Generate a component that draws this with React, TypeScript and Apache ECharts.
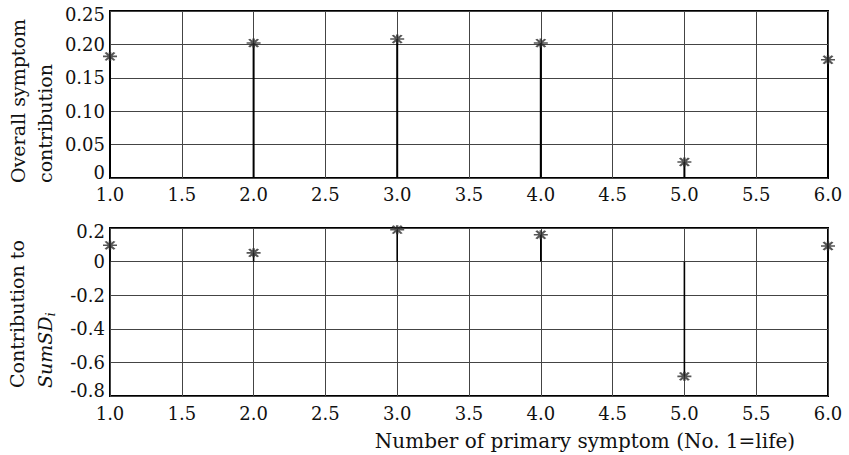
import React, { useEffect, useRef } from "react";
import * as echarts from "echarts";

const symptoms = [1, 2, 3, 4, 5, 6];
const overallContribution = [0.182, 0.202, 0.208, 0.202, 0.024, 0.177];
const sumSDContribution = [0.097, 0.052, 0.19, 0.16, -0.683, 0.093];
const topYTicks = { min: 0, max: 0.25, interval: 0.05 };
const bottomYTicks = { min: -0.8, max: 0.2, interval: 0.2 };
const xTicks = { min: 1, max: 6, interval: 0.5 };

const FONT = "DejaVu Serif";
const asterisk =
  "path://M0,5 L10,5 M5,1 L5,9 M1.8,1.5 L8.2,8.5 M8.2,1.5 L1.8,8.5";

export default function App() {
  const ref = useRef<HTMLDivElement>(null);
  useEffect(() => {
    if (!ref.current) return;
    const chart = echarts.init(ref.current, undefined, { renderer: "svg" });
    const topData = symptoms.map((x, i) => [x, overallContribution[i]]);
    const botData = symptoms.map((x, i) => [x, sumSDContribution[i]]);

    const xAxisBase = (gridIndex: number, margin: number) => ({
      type: "value",
      gridIndex,
      min: xTicks.min,
      max: xTicks.max,
      interval: xTicks.interval,
      axisLine: { show: false },
      axisTick: { show: false },
      axisLabel: {
        margin,
        fontFamily: FONT,
        fontSize: 18,
        color: "#111",
        formatter: (v: number) => v.toFixed(1),
      },
      splitLine: { show: true, lineStyle: { color: "#444", width: 1 } },
    });

    const edgeRich = {
      lo: { fontFamily: FONT, fontSize: 18, color: "#111", padding: [0, 0, 11, 0] },
      hi: { fontFamily: FONT, fontSize: 18, color: "#111", padding: [6, 0, 0, 0] },
    };

    const yFmt = (lo: number, hi: number, digits: number) => (v: number) => {
      const s = Math.abs(v) < 1e-9 ? "0" : v.toFixed(digits);
      if (Math.abs(v - lo) < 1e-9) return `{lo|${s}}`;
      if (Math.abs(v - hi) < 1e-9) return `{hi|${s}}`;
      return s;
    };

    const stems = (xi: number, data: number[][], width: number) => ({
      type: "custom",
      xAxisIndex: xi,
      yAxisIndex: xi,
      data,
      encode: { x: 0, y: 1 },
      renderItem: (params: any, api: any) => {
        const p0 = api.coord([api.value(0), 0]);
        const p1 = api.coord([api.value(0), api.value(1)]);
        return {
          type: "line",
          shape: { x1: p0[0], y1: p0[1], x2: p1[0], y2: p1[1] },
          style: { stroke: "#000", lineWidth: width },
        };
      },
      z: 3,
    });

    const markers = (xi: number, data: number[][]) => ({
      type: "scatter",
      xAxisIndex: xi,
      yAxisIndex: xi,
      data,
      symbol: asterisk,
      symbolSize: [14, 9],
      itemStyle: { color: "transparent", borderColor: "#2a2a2a", borderWidth: 2 },
      z: 4,
    });

    chart.setOption({
      animation: false,
      backgroundColor: "#fff",
      grid: [
        { left: 110, right: 21, top: 11, height: 167, show: true, borderColor: "#000", borderWidth: 2, backgroundColor: "transparent" },
        { left: 110, right: 21, top: 228, height: 168, show: true, borderColor: "#000", borderWidth: 2, backgroundColor: "transparent" },
      ],
      xAxis: [xAxisBase(0, 7), xAxisBase(1, 8)],
      yAxis: [
        {
          type: "value",
          gridIndex: 0,
          min: topYTicks.min,
          max: topYTicks.max,
          interval: topYTicks.interval,
          axisLine: { show: false },
          axisTick: { show: false },
          axisLabel: {
            margin: 5,
            fontFamily: FONT,
            fontSize: 18,
            color: "#111",
            formatter: yFmt(topYTicks.min, topYTicks.max, 2),
            rich: edgeRich,
          },
          splitLine: { show: true, lineStyle: { color: "#444", width: 1 } },
        },
        {
          type: "value",
          gridIndex: 1,
          min: bottomYTicks.min,
          max: bottomYTicks.max,
          interval: bottomYTicks.interval,
          axisLine: { show: false },
          axisTick: { show: false },
          axisLabel: {
            margin: 5,
            fontFamily: FONT,
            fontSize: 18,
            color: "#111",
            formatter: yFmt(bottomYTicks.min, bottomYTicks.max, 1),
            rich: edgeRich,
          },
          splitLine: { show: true, lineStyle: { color: "#444", width: 1 } },
        },
      ],
      series: [
        stems(0, topData, 2),
        markers(0, topData),
        stems(1, botData, 1.6),
        markers(1, botData),
      ],
      graphic: [
        {
          type: "text",
          x: 18,
          y: 183,
          rotation: Math.PI / 2,
          style: { text: "Overall symptom", font: `19px "${FONT}"`, fill: "#111", textAlign: "left", textVerticalAlign: "middle" },
        },
        {
          type: "text",
          x: 45,
          y: 183,
          rotation: Math.PI / 2,
          style: { text: "contribution", font: `19px "${FONT}"`, fill: "#111", textAlign: "left", textVerticalAlign: "middle" },
        },
        {
          type: "text",
          x: 17,
          y: 388,
          rotation: Math.PI / 2,
          style: { text: "Contribution to", font: `19px "${FONT}"`, fill: "#111", textAlign: "left", textVerticalAlign: "middle" },
        },
        {
          type: "text",
          x: 45,
          y: 388,
          rotation: Math.PI / 2,
          style: {
            text: "{it|SumSD}{sub|i}",
            fill: "#111",
            textAlign: "left",
            textVerticalAlign: "middle",
            rich: {
              it: { fontFamily: FONT, fontSize: 19, fontStyle: "italic", fill: "#111" },
              sub: { fontFamily: FONT, fontSize: 13, fontStyle: "italic", fill: "#111", padding: [10, 0, 0, 0] },
            },
          },
        },
        {
          type: "text",
          x: 585,
          y: 441,
          style: { text: "Number of primary symptom (No. 1=life)", font: `20px "${FONT}"`, fill: "#111", textAlign: "center", textVerticalAlign: "middle" },
        },
      ],
    });
    return () => chart.dispose();
  }, []);
  return <div ref={ref} style={{ position: "absolute", left: 0, top: 0, width: 849, height: 455 }} />;
}
